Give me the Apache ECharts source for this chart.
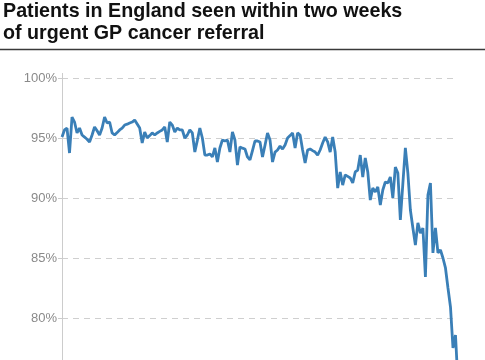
<!DOCTYPE html>
<html>
<head>
<meta charset="utf-8">
<script src="https://cdn.jsdelivr.net/npm/echarts@6/dist/echarts.min.js"></script>
<style>
html,body{margin:0;padding:0;background:#fff;overflow:hidden;}
#chart{width:485px;height:400px;}
</style>
</head>
<body>
<div id="chart"></div>
<script>
var titleLines = ['Patients in England seen within two weeks', 'of urgent GP cancer referral'];

var seenWithinTwoWeeks = [
  95.08, 95.67, 95.83, 93.75, 96.75, 96.33, 95.42, 95.83, 95.25, 95.08,
  94.9, 94.67, 95.25, 95.92, 95.6, 95.25, 95.83, 96.75, 96.25, 96.33,
  95.42, 95.25, 95.45, 95.67, 95.83, 96.08, 96.15, 96.25, 96.33, 96.5,
  96.17, 95.83, 94.58, 95.5, 95.0, 95.2, 95.42, 95.25, 95.42, 95.55,
  95.67, 95.92, 94.67, 96.33, 96.08, 95.5, 95.83, 95.67, 95.67, 95.0,
  95.25, 95.67, 95.42, 93.83, 94.8, 95.83, 95.0, 93.58, 93.58, 93.67,
  93.42, 94.17, 93.0, 94.17, 94.83, 94.75, 94.83, 93.83, 95.5, 94.83,
  92.75, 94.25, 94.15, 94.08, 93.42, 93.17, 93.95, 94.75, 94.75, 94.67,
  93.42, 94.4, 95.42, 94.83, 93.0, 93.83, 94.0, 94.33, 94.08, 94.42,
  95.0, 95.2, 95.42, 94.17, 95.42, 95.25, 94.0, 92.92, 94.0, 94.08,
  93.95, 93.83, 93.58, 94.0, 94.58, 95.08, 94.67, 93.83, 95.08, 93.83,
  90.83, 92.17, 91.08, 91.92, 91.8, 91.67, 91.25, 92.17, 92.33, 93.58,
  91.75, 93.33, 92.17, 89.83, 90.83, 90.5, 90.92, 89.42, 90.67, 91.33,
  91.25, 91.75, 90.0, 92.58, 92.08, 88.17, 91.2, 94.17, 92.08, 89.0,
  87.5, 86.08, 87.92, 87.08, 87.5, 83.42, 90.25, 91.25, 85.42, 87.5,
  85.42, 85.67, 85.0, 84.17, 82.5, 80.92, 77.5, 78.58, 74.5
];

var monthNames = ['Jan','Feb','Mar','Apr','May','Jun','Jul','Aug','Sep','Oct','Nov','Dec'];
var months = [];
for (var i = 0; i < seenWithinTwoWeeks.length; i++) {
  var m = (9 + i) % 12;
  var y = 2009 + Math.floor((9 + i) / 12);
  months.push(monthNames[m] + ' ' + y);
}

var yTicks = [75, 80, 85, 90, 95, 100];

var chart = echarts.init(document.getElementById('chart'), null, {renderer: 'canvas'});
chart.setOption({
  animation: false,
  backgroundColor: '#ffffff',
  title: {
    text: titleLines.join('\n'),
    left: 3,
    top: 0,
    padding: 0,
    textStyle: {
      fontFamily: 'Liberation Sans, Arial, sans-serif',
      fontSize: 19.7,
      fontWeight: 'bold',
      color: '#111111',
      lineHeight: 22.5
    }
  },
  graphic: [
    {type: 'line', shape: {x1: 0, y1: 49.5, x2: 485, y2: 49.5}, style: {stroke: '#3a3a3a', lineWidth: 1.5}},
    {type: 'line', shape: {x1: 62.5, y1: 73, x2: 62.5, y2: 78}, style: {stroke: '#cccccc', lineWidth: 1}}
  ],
  grid: {left: 62, top: 78, width: 396, height: 300, containLabel: false, outerBoundsMode: 'none'},
  xAxis: {
    type: 'category',
    data: months,
    boundaryGap: false,
    show: false
  },
  yAxis: {
    type: 'value',
    min: yTicks[0],
    max: yTicks[yTicks.length - 1],
    interval: 5,
    axisLine: {show: true, lineStyle: {color: '#cccccc', width: 1}},
    axisTick: {show: true, length: 4, lineStyle: {color: '#cccccc'}},
    axisLabel: {
      formatter: '{value}%',
      color: '#8a8a8a',
      fontSize: 13,
      fontFamily: 'Liberation Sans, Arial, sans-serif',
      margin: 5
    },
    splitLine: {show: true, lineStyle: {color: '#cfcfcf', type: [6, 5], width: 1}}
  },
  series: [{
    type: 'line',
    data: seenWithinTwoWeeks,
    showSymbol: false,
    symbol: 'none',
    lineStyle: {color: '#3a7fb7', width: 2.8},
    itemStyle: {color: '#3a7fb7'}
  }]
});
</script>
</body>
</html>
